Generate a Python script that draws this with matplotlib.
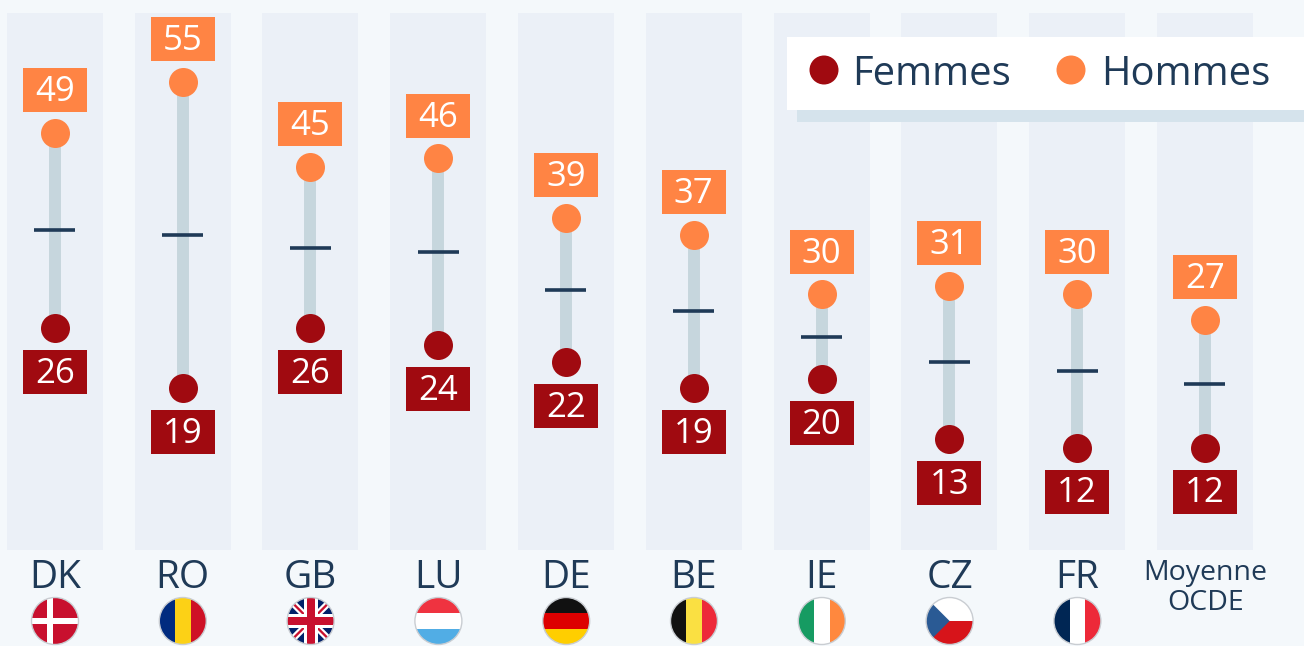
import matplotlib
matplotlib.use("Agg")
import matplotlib.pyplot as plt
from matplotlib.patches import Circle, Rectangle, Polygon

plt.rcParams['font.family'] = ['Open Sans', 'DejaVu Sans']

pays = ['DK', 'RO', 'GB', 'LU', 'DE', 'BE', 'IE', 'CZ', 'FR', 'Moyenne\nOCDE']
femmes = [26, 19, 26, 24, 22, 19, 20, 13, 12, 12]
hommes = [49, 55, 45, 46, 39, 37, 30, 31, 30, 27]
repere = [37.5, 37, 35.5, 35, 30.5, 28, 25, 22, 21, 19.5]
fond_max = 63

BG = '#F4F8FB'
PANEL = '#EBF0F7'
TIGE = '#C6D6DD'
SOMBRE = '#1F3A57'
ROUGE = '#A00A10'
ORANGE = '#FF8444'

fig = plt.figure(figsize=(13.04, 6.46), dpi=100, facecolor=BG)

# echelle : 1 unite = 8.51 px, 12 -> y=447.5
ax = fig.add_axes([0, 0, 1, 1])
ax.set_xlim(-54.7 / 127.8, (1304 - 54.7) / 127.8)
ax.set_ylim(12 - 198.5 / 8.51, 12 + 447.5 / 8.51)
ax.axis('off')

xs = list(range(len(pays)))
ax.bar(xs, [fond_max] * len(xs), width=96 / 127.8, color=PANEL, zorder=1)
ax.vlines(xs, femmes, hommes, color=TIGE, lw=8.6, zorder=2)
ax.hlines(repere, [x - 0.16 for x in xs], [x + 0.16 for x in xs], color=SOMBRE, lw=2.6, zorder=3)
ax.scatter(xs, femmes, s=436, color=ROUGE, linewidths=0, zorder=4)
ax.scatter(xs, hommes, s=436, color=ORANGE, linewidths=0, zorder=4)

bw = 64 / 127.8
bh = 44 / 8.51
for x, f, h in zip(xs, femmes, hommes):
    yh = h + 42.5 / 8.51
    yf = f - 44 / 8.51
    ax.bar(x, bh, bottom=yh - bh / 2, width=bw, color=ORANGE, zorder=5)
    ax.bar(x, bh, bottom=yf - bh / 2, width=bw, color=ROUGE, zorder=5)
    # le texte remonte de 2 px dans la boite
    ax.text(x, yh + 2 / 8.51, str(h), color='white', fontsize=25, ha='center', va='center_baseline', zorder=6)
    ax.text(x, yf + 2 / 8.51, str(f), color='white', fontsize=25, ha='center', va='center_baseline', zorder=6)

# legende, noms et drapeaux en pixels
ov = fig.add_axes([0, 0, 1, 1], facecolor='none')
ov.set_xlim(0, 1304)
ov.set_ylim(646, 0)
ov.axis('off')

ov.add_patch(Rectangle((797, 110), 507, 12, color='#D5E3EC', lw=0))
ov.add_patch(Rectangle((787, 37), 517, 73, color='white', lw=0))
ov.add_patch(Circle((824, 70), 14.5, color=ROUGE, lw=0))
ov.add_patch(Circle((1071, 70), 14.5, color=ORANGE, lw=0))
ov.text(852, 70, 'Femmes', color=SOMBRE, fontsize=28.8, va='center_baseline')
ov.text(1101, 70, 'Hommes', color=SOMBRE, fontsize=28.8, va='center_baseline')


def drapeau(cx, formes):
    cy, r = 621, 23.5
    disque = Circle((cx, cy), r, facecolor='none', edgecolor='#C9CDD2', lw=1, zorder=3)
    ov.add_patch(disque)
    for couleur, pts in formes:
        p = Polygon([(cx + a * r, cy + b * r) for a, b in pts], closed=True, color=couleur, lw=0, zorder=2)
        ov.add_patch(p)
        p.set_clip_path(disque)


def rect(a0, b0, a1, b1):
    return [(a0, b0), (a1, b0), (a1, b1), (a0, b1)]


def vert(c1, c2, c3, a=0.33):
    return [(c1, rect(-1, -1, -a, 1)), (c2, rect(-a, -1, a, 1)), (c3, rect(a, -1, 1, 1))]


def horiz(c1, c2, c3, a=0.33):
    return [(c1, rect(-1, -1, 1, -a)), (c2, rect(-1, -a, 1, a)), (c3, rect(-1, a, 1, 1))]


dk = [('#C8102E', rect(-1, -1, 1, 1)), ('white', rect(-1, -0.13, 1, 0.13)), ('white', rect(-0.36, -1, -0.1, 1))]
bleu, rouge = '#012169', '#C8102E'
gb = [(bleu, rect(-1, -1, 1, 1)),
      ('white', [(-1, -0.8), (-0.8, -1), (1, 0.8), (0.8, 1)]),
      ('white', [(1, -0.8), (0.8, -1), (-1, 0.8), (-0.8, 1)]),
      (rouge, [(-1, -0.93), (-0.93, -1), (1, 0.93), (0.93, 1)]),
      (rouge, [(1, -0.93), (0.93, -1), (-1, 0.93), (-0.93, 1)]),
      ('white', rect(-1, -0.3, 1, 0.3)), ('white', rect(-0.3, -1, 0.3, 1)),
      (rouge, rect(-1, -0.17, 1, 0.17)), (rouge, rect(-0.17, -1, 0.17, 1))]
cz = [('white', rect(-1, -1, 1, 0)), ('#D7141A', rect(-1, 0, 1, 1)), ('#2A5A94', [(-1, -1), (0.0, 0), (-1, 1)])]

formes = [dk,
          vert('#002B7F', '#FCD116', '#CE1126'),
          gb,
          horiz('#EF3340', 'white', '#51ADE5'),
          horiz('#111111', '#DD0000', '#FFCE00'),
          vert('#111111', '#FAE042', '#ED2939'),
          vert('#169B62', 'white', '#FF883E'),
          cz,
          vert('#002654', 'white', '#ED2939')]

for i, nom in enumerate(pays):
    cx = 55 + i * 127.8
    if '\n' in nom:
        ov.text(cx, 588, nom, color=SOMBRE, fontsize=20.5, ha='center', va='center', linespacing=1.1)
    else:
        ov.text(cx, 574, nom, color=SOMBRE, fontsize=28, ha='center', va='center_baseline')
        drapeau(cx, formes[i])

fig.savefig('out.png', dpi=100, facecolor=BG)
